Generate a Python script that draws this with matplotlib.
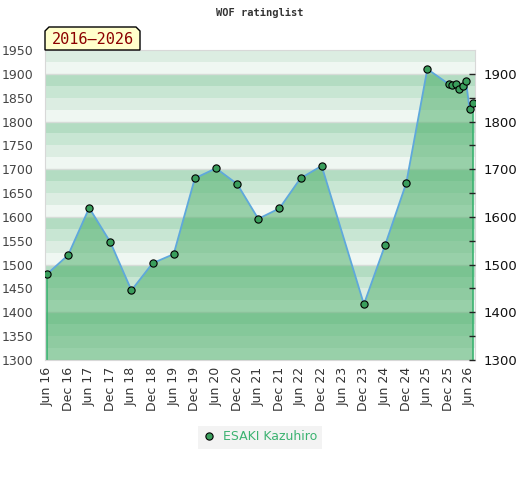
import datetime as dt
import matplotlib
matplotlib.use("Agg")
import matplotlib.pyplot as plt
import matplotlib.dates as mdates
from matplotlib.patches import Polygon
from matplotlib.lines import Line2D

# rating history
months = ["2016-06", "2016-12", "2017-06", "2017-12", "2018-06", "2018-12",
          "2019-06", "2019-12", "2020-06", "2020-12", "2021-06", "2021-12",
          "2022-06", "2022-12", "2023-12", "2024-06", "2024-12", "2025-06",
          "2025-12", "2026-01", "2026-02", "2026-03", "2026-04", "2026-05",
          "2026-06", "2026-07"]
ratings = [1480, 1520, 1619, 1547, 1446, 1503, 1522, 1681, 1702, 1669,
           1596, 1618, 1681, 1707, 1417, 1541, 1671, 1910, 1879, 1877,
           1879, 1868, 1874, 1885, 1826, 1839]
player = "ESAKI Kazuhiro"
title = "WOF ratinglist"
period = "2016\u20132026"

dates = [dt.datetime.strptime(m + "-01", "%Y-%m-%d") for m in months]
tick_dates = [dt.datetime(y, m, 1) for y in range(2016, 2027) for m in (6, 12)]
tick_dates = [d for d in tick_dates if d <= dt.datetime(2026, 6, 1)]

ymin, ymax = 1300, 1950
band_cols = ["#eff7f2", "#dcede2", "#c8e6d3", "#b3dcc2"]

fig = plt.figure(figsize=(5.2, 4.8), dpi=100)
ax = fig.add_axes([45 / 520, 1 - 360 / 480, 430 / 520, 310 / 480])

for b in range(ymin, ymax, 100):
    for i, c in enumerate(band_cols):
        ax.axhspan(b + 25 * i, b + 25 * (i + 1), color=c, lw=0, zorder=0)
    ax.axhline(b, color="#d6dcd8", lw=1, zorder=0.5)

ax.fill_between(dates, ratings, ymin, facecolor="#43ab62", alpha=0.5,
                lw=0, zorder=1)
ax.vlines([dates[0], dates[-1]], ymin, [ratings[0], ratings[-1]],
          color="#3cb371", lw=1.2, zorder=2)
ax.plot(dates, ratings, color="#5fa8dc", lw=1.3, zorder=3)
ax.plot(dates, ratings, ls="none", marker="o", ms=5.2, mfc="#3a9e5c",
        mec="black", mew=0.8, zorder=4)

pad = dt.timedelta(days=17)
ax.set_xlim(dates[0] - pad, dates[-1] + pad)
ax.set_ylim(ymin, ymax)

ax.set_yticks(range(ymin, ymax + 1, 50))
ax.tick_params(axis="y", length=0, pad=8, labelsize=9, labelcolor="#444444")
ax.set_xticks(tick_dates)
ax.xaxis.set_major_formatter(mdates.DateFormatter("%b %y"))
ax.tick_params(axis="x", length=0, pad=5, labelsize=9, labelcolor="#333333",
               labelrotation=90)
for s in ax.spines.values():
    s.set_color("#d8d8d8")

ax2 = ax.twinx()
ax2.set_ylim(ymin, ymax)
ax2.set_yticks(range(ymin, 1901, 100))
ax2.set_yticks(range(1350, 1901, 100), minor=True)
ax2.tick_params(axis="y", which="both", direction="in", length=4, width=1,
                color="#222222", labelsize=9.5, labelcolor="#111111", pad=6)
for s in ax2.spines.values():
    s.set_visible(False)

fig.text(0.5, 1 - 13 / 480, title, ha="center", va="center",
         family="DejaVu Sans Mono", weight="bold", fontsize=7.5, color="#333333")

# period tag with clipped top corners
W, H = 520.0, 480.0
pts = [(45, 50), (45, 31), (49, 27), (136, 27), (140, 31), (140, 50)]
tag = Polygon([(x / W, 1 - y / H) for x, y in pts], closed=True,
              transform=fig.transFigure, facecolor="#ffffcc",
              edgecolor="black", lw=1, zorder=5)
fig.patches.append(tag)
fig.text(92.5 / W, 1 - 39.5 / H, period, ha="center", va="center",
         family="DejaVu Sans Mono", fontsize=11, color="#8b0000", zorder=6)

handle = Line2D([], [], ls="none", marker="o", ms=5.2, mfc="#3a9e5c",
                mec="black", mew=0.8)
leg = fig.legend([handle], [player], loc="center",
                 bbox_to_anchor=(260 / W, 1 - 437 / H), frameon=True,
                 facecolor="#f0f0f0", edgecolor="none", fancybox=False,
                 fontsize=9, handlelength=1.0, handletextpad=0.6,
                 borderpad=0.4)
for t in leg.get_texts():
    t.set_color("#3cb371")

fig.savefig("out.png", dpi=100)
